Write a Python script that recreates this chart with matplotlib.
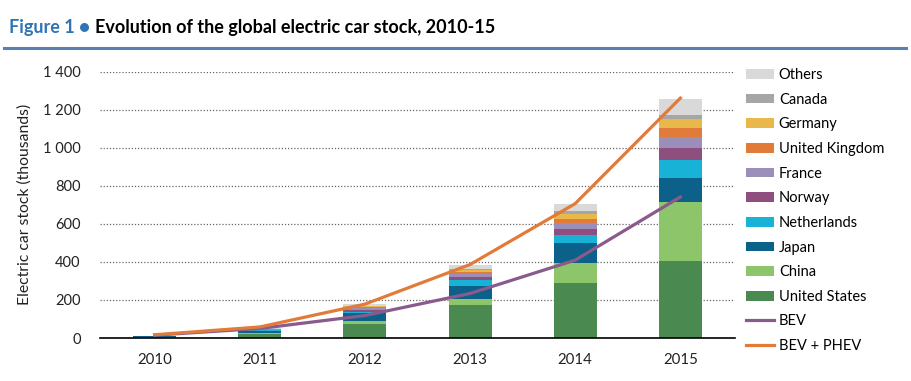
import matplotlib
matplotlib.use("Agg")
import matplotlib.pyplot as plt
from matplotlib.patches import Patch
from matplotlib.lines import Line2D
import numpy as np

plt.rcParams['font.family'] = ['Lato', 'DejaVu Sans']

years = ["2010", "2011", "2012", "2013", "2014", "2015"]
countries = ["United States", "China", "Japan", "Netherlands", "Norway",
             "France", "United Kingdom", "Germany", "Canada", "Others"]
united_states = [3, 21, 75, 172, 290, 402]
china = [1.5, 5, 16, 33, 105, 315]
japan = [3.5, 13, 40, 66, 102, 124]
netherlands = [0.3, 1, 7, 32, 43, 93]
norway = [1, 3, 10, 18, 33, 66]
france = [0.3, 2, 10, 16, 32, 56]
united_kingdom = [0.3, 1, 3, 9, 19, 47]
germany = [0.3, 2, 5, 12, 30, 49]
canada = [0.1, 0.5, 2, 4, 12, 17]
others = [1, 2, 12, 21, 40, 87]
bev = [15, 50, 118, 234, 409, 741]
bev_phev = [17, 58, 178, 386, 706, 1260]

series = [united_states, china, japan, netherlands, norway, france,
          united_kingdom, germany, canada, others]
colors = ["#4a8a50", "#8dc56b", "#0b6189", "#17b2d6", "#8e4f7e",
          "#9b8fba", "#e07b39", "#e8b84b", "#a6a6a6", "#d9d9d9"]
bev_color = "#8b5a8c"
phev_color = "#e07b39"
yticks = [0, 200, 400, 600, 800, 1000, 1200, 1400]

fig = plt.figure(figsize=(9.11, 3.81), dpi=100)
ax = fig.add_axes([100/911, 1-338/381, 635/911, (338-71.5)/381])

x = np.arange(len(years))
bottom = np.zeros(len(years))
for vals, c in zip(series, colors):
    ax.bar(x, vals, width=0.41, bottom=bottom, color=c, zorder=2)
    bottom += np.array(vals)

ax.plot(x, bev, color=bev_color, lw=2.3, zorder=3)
ax.plot(x, bev_phev, color=phev_color, lw=2.3, zorder=4)

ax.set_xlim(-0.52, 5.52)
ax.set_ylim(0, 1400)
ax.set_yticks(yticks)
ax.set_yticklabels([f"{v:,}".replace(",", " ") for v in yticks])
ax.set_xticks(x)
ax.set_xticklabels(years)
ax.tick_params(axis='y', length=0, pad=14, labelsize=10.5, colors='#222222')
ax.tick_params(axis='x', length=0, pad=11, labelsize=10.8, colors='#222222')
for s in ["top", "right", "left"]:
    ax.spines[s].set_visible(False)
ax.spines["bottom"].set_color("black")
ax.spines["bottom"].set_linewidth(1.2)
ax.spines["bottom"].set_zorder(5)
ax.yaxis.grid(True, linestyle=(0, (1, 1.5)), color="#666666", lw=0.9, zorder=0)
ax.set_axisbelow(True)
ax.set_ylabel("Electric car stock (thousands)", fontsize=11.3, color='#222222', labelpad=8)

handles = [Patch(facecolor=c, edgecolor='none') for c in colors][::-1]
labels = countries[::-1]
handles += [Line2D([0], [0], color=bev_color, lw=2.3),
            Line2D([0], [0], color=phev_color, lw=2.3)]
labels += ["BEV", "BEV + PHEV"]
fig.legend(handles, labels, loc="upper left", bbox_to_anchor=(746/911, 1-68/381),
           frameon=False, fontsize=10.5, handlelength=1.9, handleheight=0.65,
           handletextpad=0.35, labelspacing=0.73, borderaxespad=0, borderpad=0)

# Title
t1 = fig.text(9/911, 1-27/381, "Figure 1 \u25cf", color="#2f75b5", fontsize=13,
              fontweight="bold", va="center", ha="left")
fig.canvas.draw()
bb = t1.get_window_extent()
fig.text((bb.x1 + 5)/911, 1-27/381, "Evolution of the global electric car stock, 2010-15",
         color="black", fontsize=13, fontweight="bold", va="center", ha="left")
fig.add_artist(Line2D([4/911, 906/911], [1-47.5/381, 1-47.5/381], color="#5a7fb0", lw=2.2,
                      transform=fig.transFigure))

fig.savefig("out.png", dpi=100)
